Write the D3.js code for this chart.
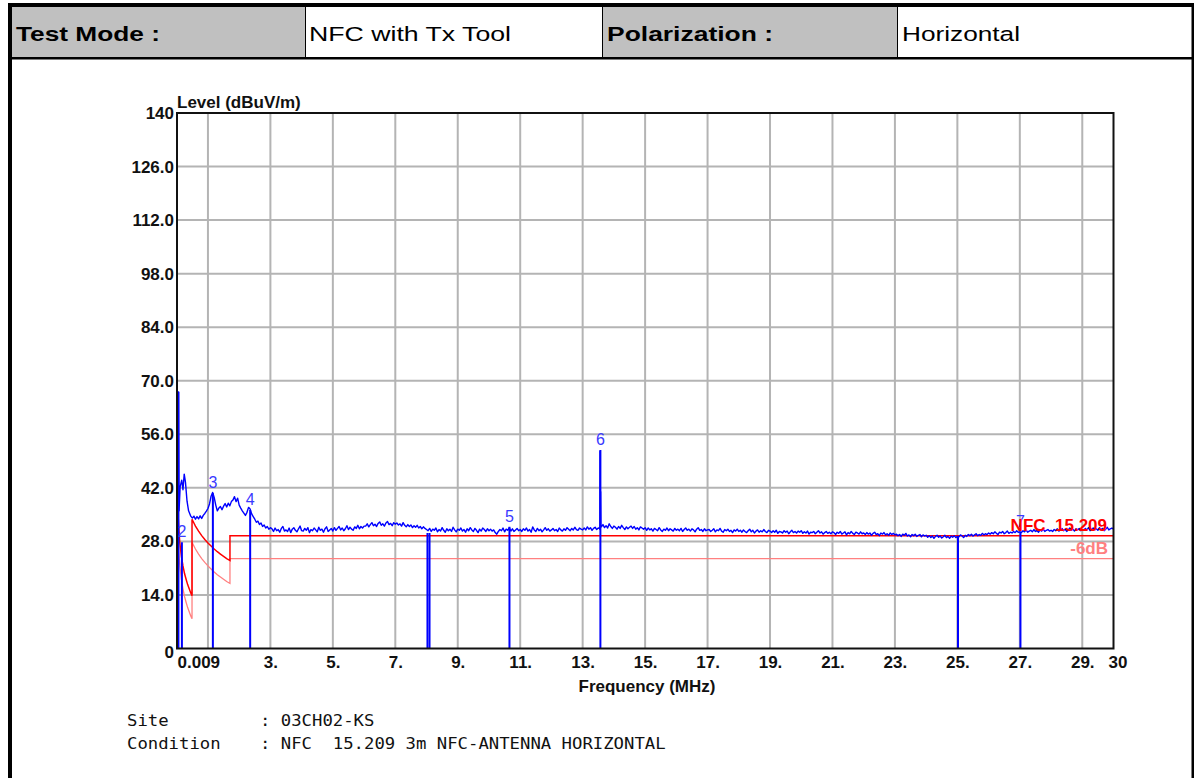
<!DOCTYPE html>
<html><head><meta charset="utf-8">
<script src="https://cdn.jsdelivr.net/npm/d3@7/dist/d3.min.js"></script>
<style>
html,body{margin:0;padding:0;background:#fff;}
svg{display:block;}
</style></head>
<body>
<svg id="c" width="1194" height="778" font-family="'Liberation Sans', Arial, sans-serif"></svg>
<script>
// ---------------- DATA ----------------
const headerCells = ["Test Mode :", "NFC with Tx Tool", "Polarization :", "Horizontal"];
const yTickValues = [0, 14, 28, 42, 56, 70, 84, 98, 112, 126, 140];
const yTickLabels = ["0", "14.0", "28.0", "42.0", "56.0", "70.0", "84.0", "98.0", "112.0", "126.0", "140"];
const xGridValues = [1, 3, 5, 7, 9, 11, 13, 15, 17, 19, 21, 23, 25, 27, 29];
const xTickValues = [0.009, 3, 5, 7, 9, 11, 13, 15, 17, 19, 21, 23, 25, 27, 29, 30];
const xTickLabels = ["0.009", "3.", "5.", "7.", "9.", "11.", "13.", "15.", "17.", "19.", "21.", "23.", "25.", "27.", "29.", "30"];

// low-frequency part of the measured trace (MHz, dBuV/m)
const lowTraceFreq = [0.009, 0.03, 0.055, 0.075, 0.11, 0.16, 0.2, 0.24, 0.28, 0.33, 0.38, 0.45, 0.5, 0.55, 0.6, 0.65, 0.7, 0.75, 0.8, 0.85, 0.9, 0.95, 1.0, 1.05, 1.1, 1.15, 1.2, 1.25, 1.3, 1.35, 1.4, 1.45, 1.5, 1.55, 1.6, 1.65, 1.7, 1.75, 1.8, 1.85, 1.9, 1.95, 2.0, 2.05, 2.1, 2.15, 2.2, 2.25, 2.3, 2.35, 2.4, 2.45, 2.5, 2.55, 2.6, 2.65, 2.7, 2.75, 2.8, 2.85, 2.9, 2.95, 3.0];
const lowTraceLevel = [44, 58, 67.1, 36, 42.3, 44, 41.5, 45.6, 43.5, 38.5, 36, 34.6, 34.1, 34.6, 33.8, 34.5, 33.9, 34.7, 34.0, 34.8, 35.3, 35.9, 36.6, 37.8, 39.8, 40.8, 39.5, 37.5, 36.0, 36.7, 37.1, 36.3, 37.2, 37.9, 37.0, 38.0, 37.3, 38.4, 38.8, 39.7, 38.4, 39.3, 37.5, 36.7, 36.0, 35.4, 34.8, 35.6, 36.9, 36.5, 35.2, 34.5, 33.8, 33.0, 33.3, 32.4, 32.8, 31.9, 32.3, 31.5, 31.9, 31.2, 31.6];

// main trace, one reading every 0.05 MHz from 3.05 to 30.00 MHz (one row = 1 MHz)
const mainTraceStart = 3.05, mainTraceStep = 0.05;
const mainTraceLevel = [
 31.3,30.6,31.5,30.8,31.1,30.4,31.4,31.9,30.7,31.0,30.6,31.5,30.3,31.2,31.6,30.9,30.5,31.3,32.0,30.8,
 30.7,31.4,30.9,31.6,30.3,31.1,30.8,31.5,31.0,30.5,31.7,30.9,31.2,30.4,31.3,31.8,30.6,31.0,31.4,30.7,
 31.6,30.9,31.4,31.9,31.0,31.5,30.8,31.3,32.1,31.1,31.7,31.2,30.9,31.8,31.4,32.2,31.3,31.9,31.5,32.0,
 32.0,32.6,31.8,32.4,32.9,32.1,32.5,31.9,32.7,33.1,32.2,32.6,32.0,32.8,33.2,32.4,32.7,32.1,32.9,32.5,
 32.8,32.3,32.6,32.0,32.9,32.2,31.8,32.4,31.9,32.3,31.6,32.1,31.7,32.2,31.5,31.9,31.3,31.8,31.4,31.1,
 30.8,31.4,30.6,31.2,30.9,31.5,30.5,31.1,30.7,31.6,30.9,30.4,31.3,30.8,31.2,30.6,31.7,31.0,30.5,31.2,
 30.9,31.5,30.7,31.1,30.4,31.3,30.8,31.6,31.0,30.6,31.4,30.9,30.3,31.2,30.7,31.5,31.1,30.6,31.3,30.8,
 31.2,30.7,31.0,30.3,29.9,30.6,31.1,30.8,31.5,30.5,31.2,30.9,31.6,30.7,31.3,30.6,31.0,31.4,30.8,31.1,
 30.6,31.3,30.9,31.5,30.7,31.1,30.4,31.8,31.0,30.6,31.4,30.8,31.2,30.5,31.0,31.6,30.9,31.3,30.7,31.0,
 31.4,30.8,31.1,30.6,31.5,31.0,30.7,31.3,30.9,31.6,31.2,30.8,31.4,31.0,31.7,31.1,30.9,31.5,31.2,31.0,
 31.5,31.0,31.8,31.2,31.6,30.9,31.4,31.7,31.1,31.5,31.2,31.8,32.4,31.6,32.1,31.5,32.6,31.9,31.4,32.0,
 31.7,31.2,31.9,31.4,32.2,31.6,31.1,31.8,31.3,31.7,32.0,31.4,31.9,31.2,31.6,31.0,31.8,31.5,31.2,31.6,
 30.9,31.5,31.0,31.3,30.7,31.4,31.1,30.8,31.6,31.0,30.6,31.2,30.9,31.5,30.8,31.3,31.0,30.7,31.4,30.9,
 31.2,30.8,31.4,30.6,31.1,31.5,30.9,31.2,30.7,31.3,31.0,30.5,31.2,31.6,30.9,31.1,30.6,31.3,30.8,31.0,
 31.1,30.6,30.9,31.3,30.5,31.0,30.8,31.4,30.7,30.4,31.1,30.8,31.2,30.6,30.9,30.3,31.0,30.7,31.2,30.6,
 30.9,30.4,31.0,30.6,30.3,30.8,31.2,30.5,30.9,30.2,30.7,31.0,30.4,30.8,30.5,31.1,30.6,30.3,30.9,30.7,
 30.3,30.8,30.4,30.9,30.1,30.6,30.5,30.2,30.8,30.4,30.7,30.0,30.5,30.9,30.3,30.6,30.2,30.7,30.4,30.8,
 30.1,30.5,30.2,30.7,29.9,30.4,30.3,30.6,30.0,30.4,30.8,30.2,30.5,29.9,30.3,30.6,30.1,30.4,30.0,30.5,
 30.3,29.8,30.4,30.1,30.6,29.9,30.2,30.5,29.7,30.3,30.0,30.6,30.1,29.8,30.4,30.2,29.9,30.5,30.0,30.2,
 29.8,30.3,29.9,30.2,29.6,30.1,30.4,29.8,30.0,29.5,30.2,29.9,30.3,29.7,30.0,29.6,30.2,29.8,30.1,29.7,
 29.9,29.5,29.8,29.3,29.9,29.6,30.1,29.4,29.7,29.2,29.8,29.5,29.9,29.3,29.6,29.8,29.2,29.7,29.4,29.6,
 29.1,29.5,29.0,29.4,28.8,29.3,29.6,29.1,29.4,28.9,29.2,29.6,29.0,29.3,28.8,29.4,29.1,29.5,29.0,29.3,
 29.2,29.7,29.4,29.0,29.6,29.3,29.8,29.5,29.9,29.4,29.7,30.0,29.5,29.8,29.6,30.1,29.7,30.0,29.8,30.2,
 29.9,30.3,30.0,30.5,30.1,29.8,30.4,30.2,30.6,30.0,30.3,30.7,30.1,30.4,30.2,30.6,30.3,30.8,30.4,30.5,
 30.3,30.8,30.5,31.0,30.4,30.7,30.9,30.5,31.1,30.6,30.8,30.4,31.0,30.7,31.2,30.6,30.9,31.1,30.7,30.9,
 30.6,31.1,30.8,31.3,30.7,31.0,31.4,30.8,31.2,30.6,31.0,31.5,30.9,31.2,30.7,31.3,31.0,31.4,30.8,31.1,
 30.9,31.4,31.0,31.6,30.8,31.2,31.5,31.0,31.3,30.9,31.6,31.1,31.4,30.8,31.2,31.7,31.0,31.3,31.5,31.2
];
// 13.56 MHz carrier spike
const spikeFreq = [13.54, 13.555, 13.565, 13.575, 13.585];
const spikeLevel = [31.4, 51.6, 31.8, 41.0, 32.2];

// limit NFC 15.209 and limit -6 dB
const limitFreq  = [0.009, 0.02, 0.04, 0.07, 0.1, 0.15, 0.2, 0.25, 0.3, 0.35, 0.4, 0.45, 0.49, 0.49, 0.55, 0.6, 0.7, 0.8, 0.9, 1.0, 1.1, 1.2, 1.3, 1.4, 1.5, 1.6, 1.705, 1.705, 30];
const limitLevel = [48.5, 41.6, 35.6, 30.7, 27.6, 24.1, 21.6, 19.6, 18.1, 16.7, 15.6, 14.5, 13.8, 33.8, 32.8, 32.0, 30.7, 29.5, 28.5, 27.6, 26.8, 26.0, 25.3, 24.7, 24.1, 23.5, 23.0, 29.5, 29.5];
const limit6Level = [42.5, 35.6, 29.6, 24.7, 21.6, 18.1, 15.6, 13.6, 12.1, 10.7, 9.6, 8.5, 7.8, 27.8, 26.8, 26.0, 24.7, 23.5, 22.5, 21.6, 20.8, 20.0, 19.3, 18.7, 18.1, 17.5, 17.0, 23.5, 23.5];

// markers
const markerFreq  = [0.055, 0.166, 1.158, 2.352, 8.03, 8.096, 10.656, 13.568, 25.02, 27.02];
const markerLevel = [67.1, 27.8, 40.6, 36.2, 30.2, 30.2, 31.8, 51.9, 29.2, 30.5];
const markerLabel = ["", "2", "3", "4", "", "", "5", "6", "", "7"];

const siteLines = [["Site", ": 03CH02-KS"], ["Condition", ": NFC  15.209 3m NFC-ANTENNA HORIZONTAL"]];

// ---------------- DRAW ----------------
const svg = d3.select("#c");
const SANS = "'Liberation Sans', Arial, sans-serif";
const MONO = "'DejaVu Sans Mono', 'Liberation Mono', monospace";

// header table
const cellX = [12, 305, 602, 897, 1192];
const cellFill = ["#c0c0c0", "#ffffff", "#c0c0c0", "#ffffff"];
const cellTextX = [16, 309, 607, 902];
const cellTextLen = [144, 202, 166, 118];
const cellBold = [true, false, true, false];
headerCells.forEach((t, i) => {
  svg.append("rect").attr("x", cellX[i]).attr("y", 7).attr("width", cellX[i+1]-cellX[i]).attr("height", 50).attr("fill", cellFill[i]);
  svg.append("text").attr("x", cellTextX[i]).attr("y", 41)
    .style("font-family", SANS).attr("font-size", 20.5).attr("font-weight", cellBold[i] ? "bold" : "normal")
    .attr("textLength", cellTextLen[i]).attr("lengthAdjust", "spacingAndGlyphs")
    .attr("fill", "#000").text(t);
});
[305, 602, 897].forEach(xx => svg.append("rect").attr("x", xx).attr("y", 7).attr("width", 1).attr("height", 50).attr("fill", "#000"));
svg.append("rect").attr("x", 8).attr("y", 3).attr("width", 1186).attr("height", 4).attr("fill", "#000");
svg.append("rect").attr("x", 8).attr("y", 57).attr("width", 1186).attr("height", 2.5).attr("fill", "#000");
svg.append("rect").attr("x", 8).attr("y", 3).attr("width", 4).attr("height", 775).attr("fill", "#000");
svg.append("rect").attr("x", 1191.5).attr("y", 3).attr("width", 3).attr("height", 775).attr("fill", "#000");

// chart
const L = 177, R = 1113.5, T = 113, B = 648.5;
const x = d3.scaleLinear().domain([0.009, 30]).range([L, R]);
const y = d3.scaleLinear().domain([0, 140]).range([B, T]);

const grid = svg.append("g");
grid.selectAll("line.h").data(yTickValues.slice(1, -1)).enter().append("line")
  .attr("x1", L).attr("x2", R).attr("y1", d => y(d)).attr("y2", d => y(d))
  .attr("stroke", "#b4b4b4").attr("stroke-width", 2);
grid.selectAll("line.v").data(xGridValues).enter().append("line")
  .attr("y1", T).attr("y2", B).attr("x1", d => x(d)).attr("x2", d => x(d))
  .attr("stroke", "#b4b4b4").attr("stroke-width", 2);

svg.append("clipPath").attr("id", "pc").append("rect").attr("x", L).attr("y", T).attr("width", R-L).attr("height", B-T);
const plot = svg.append("g").attr("clip-path", "url(#pc)");

const lineGen = d3.line().x(d => x(d[0])).y(d => y(d[1]));
const lim = limitFreq.map((f, i) => [f, limitLevel[i]]);
const lim6 = limitFreq.map((f, i) => [f, limit6Level[i]]);
plot.append("path").attr("d", lineGen(lim6)).attr("fill", "none").attr("stroke", "#ff8080").attr("stroke-width", 1.3);
plot.append("path").attr("d", lineGen(lim)).attr("fill", "none").attr("stroke", "#ff0000").attr("stroke-width", 1.5);

// assemble trace
let trace = lowTraceFreq.map((f, i) => [f, lowTraceLevel[i]]);
mainTraceLevel.forEach((v, i) => trace.push([mainTraceStart + i * mainTraceStep, v]));
spikeFreq.forEach((f, i) => trace.push([f, spikeLevel[i]]));
trace.sort((a, b) => a[0] - b[0]);

// marker lines
plot.selectAll("line.mk").data(markerFreq).enter().append("line")
  .attr("x1", d => x(d)).attr("x2", d => x(d))
  .attr("y1", (d, i) => y(markerLevel[i])).attr("y2", y(0))
  .attr("stroke", "#0000ff").attr("stroke-width", 2);

plot.append("path").attr("d", lineGen(trace)).attr("fill", "none").attr("stroke", "#0000ff").attr("stroke-width", 1.4).attr("stroke-linejoin", "round");

// marker labels
svg.selectAll("text.mk").data(markerFreq).enter().append("text")
  .attr("x", d => x(d)).attr("y", (d, i) => y(markerLevel[i]) - 5)
  .attr("text-anchor", "middle").style("font-family", SANS).attr("font-size", 16).attr("fill", "#3a3aff")
  .text((d, i) => markerLabel[i]);

// frame
svg.append("rect").attr("x", L).attr("y", T).attr("width", R-L).attr("height", B-T)
  .attr("fill", "none").attr("stroke", "#111").attr("stroke-width", 2);

// limit labels
svg.append("text").attr("x", 1107).attr("y", 530.5).attr("text-anchor", "end")
  .style("font-family", SANS).attr("font-size", 17).attr("font-weight", "bold").attr("fill", "#ff0000")
  .style("white-space", "pre").text("NFC  15.209");
svg.append("text").attr("x", 1108).attr("y", 554).attr("text-anchor", "end")
  .style("font-family", SANS).attr("font-size", 17).attr("font-weight", "bold").attr("fill", "#ff8080").text("-6dB");

// axes
const yAxis = svg.append("g").attr("transform", `translate(${L},0)`)
  .call(d3.axisLeft(y).tickValues(yTickValues).tickFormat((d, i) => yTickLabels[i]).tickSize(0).tickPadding(3));
const xAxis = svg.append("g").attr("transform", `translate(0,${B})`)
  .call(d3.axisBottom(x).tickValues(xTickValues).tickFormat((d, i) => xTickLabels[i]).tickSize(0).tickPadding(7.5));
[yAxis, xAxis].forEach(a => {
  a.select(".domain").remove();
  a.selectAll("text").attr("font-size", 17).attr("font-weight", "bold").attr("fill", "#111")
    .style("font-family", SANS);
});
yAxis.selectAll(".tick").filter(d => d === 0).select("text").attr("dy", "0.55em");
xAxis.selectAll(".tick").filter(d => d === 0.009).select("text").attr("text-anchor", "start");
xAxis.selectAll(".tick").filter(d => d === 30).select("text").attr("dx", 4);

svg.append("text").attr("x", L).attr("y", 107.5).style("font-family", SANS).attr("font-size", 17).attr("font-weight", "bold").attr("fill", "#111").text("Level (dBuV/m)");
svg.append("text").attr("x", 647).attr("y", 692).attr("text-anchor", "middle").style("font-family", SANS).attr("font-size", 17).attr("font-weight", "bold").attr("fill", "#111").text("Frequency (MHz)");

// site info
const infoY = [726, 748.5];
siteLines.forEach((ln, i) => {
  svg.append("text").attr("x", 127).attr("y", infoY[i])
    .style("font-family", MONO).attr("font-size", 15.5).attr("fill", "#111")
    .attr("textLength", ln[0].length * 10.4).attr("lengthAdjust", "spacingAndGlyphs")
    .style("white-space", "pre").text(ln[0]);
  svg.append("text").attr("x", 260).attr("y", infoY[i])
    .style("font-family", MONO).attr("font-size", 15.5).attr("fill", "#111")
    .attr("textLength", ln[1].length * 10.4).attr("lengthAdjust", "spacingAndGlyphs")
    .style("white-space", "pre").text(ln[1]);
});
</script>
</body></html>
